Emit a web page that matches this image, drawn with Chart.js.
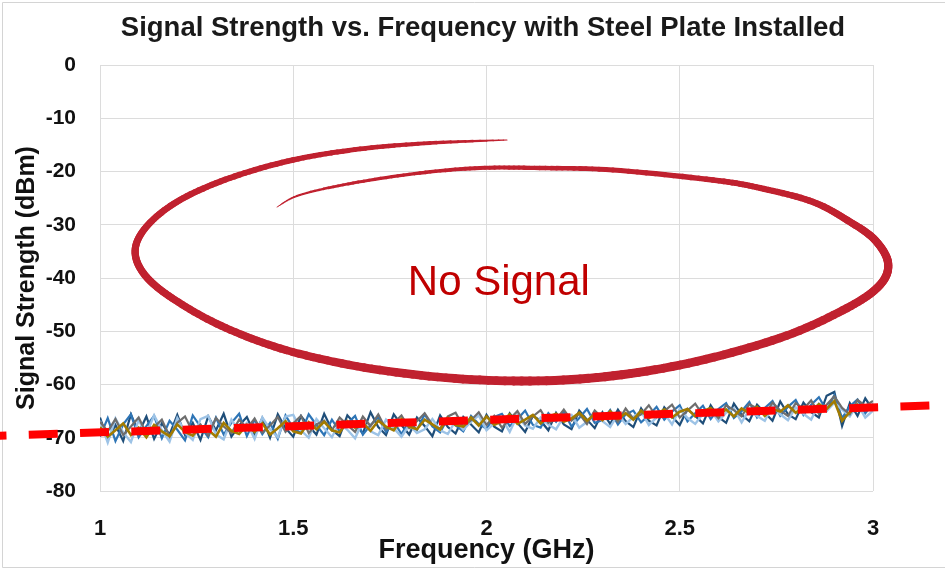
<!DOCTYPE html>
<html>
<head>
<meta charset="utf-8">
<script src="https://cdn.jsdelivr.net/npm/chart.js@4.4.1/dist/chart.umd.min.js"></script>
<style>
html,body{margin:0;padding:0;background:#fff;}
#wrap{width:945px;height:570px;position:relative;}
</style>
</head>
<body>
<div id="wrap"><canvas id="c" width="945" height="570"></canvas></div>
<script>
// ---------- data ----------
const chartTitle = "Signal Strength vs. Frequency with Steel Plate Installed";
const xTitle = "Frequency (GHz)";
const yTitle = "Signal Strength (dBm)";
const freq = [1.00,1.02,1.04,1.06,1.08,1.10,1.12,1.14,1.16,1.18,
1.20,1.22,1.24,1.26,1.28,1.30,1.32,1.34,1.36,1.38,
1.40,1.42,1.44,1.46,1.48,1.50,1.52,1.54,1.56,1.58,
1.60,1.62,1.64,1.66,1.68,1.70,1.72,1.74,1.76,1.78,
1.80,1.82,1.84,1.86,1.88,1.90,1.92,1.94,1.96,1.98,
2.00,2.02,2.04,2.06,2.08,2.10,2.12,2.14,2.16,2.18,
2.20,2.22,2.24,2.26,2.28,2.30,2.32,2.34,2.36,2.38,
2.40,2.42,2.44,2.46,2.48,2.50,2.52,2.54,2.56,2.58,
2.60,2.62,2.64,2.66,2.68,2.70,2.72,2.74,2.76,2.78,
2.80,2.82,2.84,2.86,2.88,2.90,2.92,2.94,2.96,2.98,3.00];

const darkBlue = [-66.2,-70.4,-67.6,-70.6,-65.6,-69.1,-66.0,-70.2,-67.3,-69.4,
-65.7,-69.5,-67.2,-70.4,-66.0,-68.6,-65.5,-69.8,-67.7,-66.1,
-69.4,-66.3,-70.0,-65.6,-68.2,-69.8,-65.9,-67.8,-69.4,-65.5,
-68.5,-69.7,-65.8,-67.4,-69.2,-65.2,-68.0,-69.5,-65.6,-67.6,
-69.4,-66.2,-67.8,-69.7,-65.8,-68.0,-69.2,-66.1,-67.5,-69.0,
-65.7,-67.9,-68.8,-65.4,-67.2,-68.9,-65.9,-66.8,-68.6,-65.3,
-67.5,-68.4,-64.9,-66.6,-68.2,-65.2,-67.4,-64.7,-66.9,-68.0,
-64.5,-66.8,-67.7,-64.3,-66.0,-67.6,-64.6,-65.9,-67.3,-63.9,
-66.1,-67.2,-63.6,-65.7,-66.9,-63.8,-65.3,-66.8,-63.2,-65.6,
-66.5,-63.4,-65.2,-66.2,-62.1,-61.4,-67.8,-63.5,-65.9,-62.6,-64.8];

const midBlue = [-69.8,-66.3,-70.6,-67.5,-65.6,-69.9,-67.8,-65.9,-70.1,-66.8,
-68.5,-70.5,-65.8,-67.9,-69.9,-66.2,-69.4,-67.2,-65.5,-69.7,
-66.6,-69.3,-67.2,-70.2,-65.8,-68.2,-69.1,-65.6,-67.6,-69.5,
-66.6,-68.8,-67.3,-65.9,-69.4,-67.6,-66.2,-68.9,-67.0,-69.3,
-66.9,-68.6,-65.6,-67.9,-69.0,-66.4,-67.7,-68.8,-65.9,-67.4,
-68.3,-66.1,-65.5,-67.8,-66.5,-64.9,-67.6,-68.1,-65.4,-67.0,
-65.1,-67.9,-66.3,-64.6,-67.2,-66.7,-64.8,-67.5,-65.6,-64.9,
-67.1,-65.8,-64.2,-66.6,-65.1,-63.9,-66.9,-65.4,-64.0,-66.5,
-64.6,-63.5,-66.3,-65.0,-63.3,-66.2,-64.4,-63.1,-65.9,-64.2,
-62.9,-65.7,-63.8,-62.4,-64.9,-62.0,-66.3,-64.1,-62.8,-65.4,-63.6];

const lightBlue = [-66.8,-70.9,-66.4,-69.0,-70.8,-66.7,-69.3,-65.8,-68.6,-70.7,
-66.3,-69.0,-70.4,-66.5,-65.9,-69.4,-70.3,-66.6,-68.8,-67.2,
-70.2,-66.2,-68.4,-69.9,-66.0,-65.7,-68.6,-70.0,-66.5,-68.2,
-69.9,-67.1,-68.5,-70.1,-66.9,-68.8,-69.5,-66.6,-68.2,-69.8,
-67.6,-69.1,-68.4,-66.5,-68.6,-69.3,-66.8,-68.5,-67.0,-65.8,
-68.6,-67.3,-66.4,-68.9,-65.8,-67.7,-68.3,-66.2,-67.5,-68.4,
-66.0,-65.7,-68.1,-67.0,-65.2,-66.9,-68.0,-65.6,-67.4,-66.1,
-65.0,-67.6,-66.2,-65.4,-67.5,-64.6,-66.3,-67.4,-65.5,-64.8,
-66.9,-65.3,-64.5,-67.1,-64.7,-65.9,-66.8,-64.1,-65.6,-66.7,
-64.3,-65.5,-66.6,-63.6,-65.0,-63.4,-64.7,-66.0,-63.7,-66.2,-64.9];

const grayRun = [-67.0,-68.8,-66.5,-69.5,-67.9,-66.2,-69.2,-68.0,-66.6,-69.8,
-67.2,-66.0,-68.9,-67.5,-69.6,-66.3,-67.9,-69.1,-66.6,-68.3,
-66.4,-69.0,-67.7,-66.1,-68.9,-67.3,-65.9,-69.1,-67.5,-66.8,
-68.6,-66.2,-67.6,-68.9,-66.0,-67.8,-65.6,-68.4,-67.2,-65.8,
-68.2,-66.9,-65.4,-67.6,-68.3,-66.0,-65.3,-67.9,-66.7,-65.2,
-67.6,-65.9,-68.1,-66.5,-65.0,-67.4,-66.0,-64.8,-67.2,-66.6,
-64.7,-66.8,-65.5,-67.4,-64.9,-66.3,-65.3,-67.0,-64.5,-66.4,
-65.6,-63.9,-66.1,-65.0,-63.8,-66.2,-64.9,-63.6,-65.8,-64.6,
-66.3,-63.9,-64.8,-66.0,-63.7,-64.5,-65.7,-63.4,-64.9,-65.9,
-63.5,-64.6,-63.0,-65.5,-63.8,-62.2,-64.4,-65.6,-62.9,-64.0,-63.1];

const goldRun = [-68.0,-69.8,-68.6,-67.3,-69.5,-68.1,-69.9,-67.6,-68.8,-69.7,
-67.5,-68.9,-69.6,-67.9,-68.5,-69.8,-67.2,-68.7,-69.3,-67.6,
-68.9,-67.3,-69.4,-68.2,-66.9,-68.8,-69.2,-67.1,-68.4,-67.0,
-68.6,-69.0,-66.9,-68.1,-67.2,-68.7,-66.8,-67.9,-68.6,-66.5,
-67.9,-68.4,-66.6,-67.5,-68.5,-66.3,-67.6,-67.9,-66.2,-67.7,
-66.0,-67.6,-66.9,-65.6,-67.4,-66.6,-65.7,-67.3,-66.1,-65.5,
-67.0,-66.4,-65.3,-66.8,-65.6,-66.7,-65.0,-66.5,-65.4,-66.6,
-64.9,-66.3,-65.6,-64.7,-66.2,-65.1,-64.6,-66.0,-65.0,-64.4,
-65.8,-64.7,-66.0,-64.5,-65.4,-64.2,-65.9,-64.6,-65.1,-63.9,
-65.3,-64.2,-65.0,-63.7,-64.6,-63.1,-66.8,-65.2,-63.8,-64.7,-63.9];

// linear trend line (hand-drawn red dashed line, extends past the plot)
const trendX = [0.683, 3.147];
const trendY = [-69.74, -63.95];

const xTicks = {min: 1, max: 3, step: 0.5};
const yTicks = {min: -80, max: 0, step: 10};

// ---------- annotation (hand-drawn spiral + label), in data units ----------
const noteText = "No Signal";
const notePos = [2.032, -43.2];
const spiralPath = [
[2.053,-14.08],[1.854,-14.65],[1.673,-15.77],[1.499,-17.84],[1.336,-21.22],
[1.207,-25.35],[1.124,-30.05],[1.091,-34.74],[1.116,-39.44],[1.194,-44.13],
[1.326,-49.39],[1.499,-53.90],[1.724,-57.28],[1.983,-59.15],[2.242,-58.97],
[2.501,-56.34],[2.759,-51.27],[2.933,-45.63],[3.018,-41.31],[3.039,-37.18],
[3.005,-32.86],[2.941,-29.48],[2.845,-25.73],[2.708,-23.10],[2.586,-21.60],
[2.327,-19.72],[2.138,-19.34],[1.983,-19.34],[1.828,-20.28],[1.655,-22.16],
[1.517,-24.41],[1.458,-26.67]];
const spiralWidth = [1,3.8,4.8,5.5,6,6.4,6.8,7.2,7.4,7.4,7.6,8,8.4,8.8,9,8.8,
8.5,8.3,8.2,8.2,7.8,7.2,6.6,6,5.6,5,4.4,4,3.5,3,2,0.7];

// ---------- drawing ----------
const FONT = "'Liberation Sans', Arial, sans-serif";

function mkSeries(ys){ return ys.map((v,i)=>({x: freq[i], y: v})); }

const spiralPlugin = {
  id: 'spiral',
  afterDatasetsDraw(chart){
    const {ctx, scales:{x, y}} = chart;
    const P = spiralPath.map(p => [x.getPixelForValue(p[0]), y.getPixelForValue(p[1])]);
    const n = P.length;
    const samples = [];
    for (let i = 0; i < n - 1; i++){
      const p0 = P[Math.max(i-1,0)], p1 = P[i], p2 = P[i+1], p3 = P[Math.min(i+2,n-1)];
      for (let k = 0; k < 12; k++){
        const t = k/12, t2 = t*t, t3 = t2*t;
        const px = 0.5*((2*p1[0]) + (-p0[0]+p2[0])*t + (2*p0[0]-5*p1[0]+4*p2[0]-p3[0])*t2 + (-p0[0]+3*p1[0]-3*p2[0]+p3[0])*t3);
        const py = 0.5*((2*p1[1]) + (-p0[1]+p2[1])*t + (2*p0[1]-5*p1[1]+4*p2[1]-p3[1])*t2 + (-p0[1]+3*p1[1]-3*p2[1]+p3[1])*t3);
        const w = spiralWidth[i] + (spiralWidth[i+1]-spiralWidth[i])*t;
        samples.push([px, py, w]);
      }
    }
    samples.push([P[n-1][0], P[n-1][1], spiralWidth[n-1]]);
    ctx.save();
    ctx.strokeStyle = '#c0212f';
    ctx.lineCap = 'round';
    ctx.lineJoin = 'round';
    for (let i = 0; i < samples.length - 1; i++){
      const a = samples[i], b = samples[i+1];
      ctx.lineWidth = (a[2]+b[2])/2;
      ctx.beginPath();
      ctx.moveTo(a[0], a[1]);
      ctx.lineTo(b[0], b[1]);
      ctx.stroke();
    }
    ctx.fillStyle = '#c00000';
    ctx.font = "42px " + FONT;
    ctx.textAlign = 'center';
    ctx.textBaseline = 'alphabetic';
    ctx.fillText(noteText, x.getPixelForValue(notePos[0]), y.getPixelForValue(notePos[1]));
    ctx.restore();
  }
};

const framePlugin = {
  id: 'frame',
  beforeDraw(chart){
    const ctx = chart.ctx;
    ctx.save();
    ctx.fillStyle = '#ffffff';
    ctx.fillRect(0, 0, chart.width, chart.height);
    ctx.strokeStyle = '#d4d4d4';
    ctx.lineWidth = 1;
    ctx.beginPath();
    ctx.moveTo(chart.width + 5, 2.5);
    ctx.lineTo(2.5, 2.5);
    ctx.lineTo(2.5, 567.5);
    ctx.lineTo(chart.width + 5, 567.5);
    ctx.stroke();
    ctx.restore();
  }
};

const gridColor = '#dcdcdc';
const noiseStyle = (color, w) => ({
  borderColor: color, backgroundColor: color, borderWidth: w,
  pointRadius: 0, fill: false, tension: 0
});
const plainNum = v => String(v);

new Chart(document.getElementById('c'), {
  type: 'line',
  data: {
    datasets: [
      {label: 'Trend', data: trendX.map((v,i)=>({x: v, y: trendY[i]})),
        borderColor: '#ff0000', borderWidth: 8, borderDash: [29, 22.3],
        borderCapStyle: 'butt', pointRadius: 0, clip: false, fill: false},
      Object.assign({label: 'Run 5', data: mkSeries(goldRun)}, noiseStyle('#a27b00', 2.6)),
      Object.assign({label: 'Run 4', data: mkSeries(grayRun)}, noiseStyle('#6e6e6e', 2.2)),
      Object.assign({label: 'Run 3', data: mkSeries(lightBlue)}, noiseStyle('#9dc3e6', 2.4)),
      Object.assign({label: 'Run 2', data: mkSeries(midBlue)}, noiseStyle('#2e75b6', 2.2)),
      Object.assign({label: 'Run 1', data: mkSeries(darkBlue)}, noiseStyle('#1f4e79', 2.2))
    ]
  },
  options: {
    responsive: false,
    animation: false,
    events: [],
    layout: {padding: {left: 21, right: 0, top: 0, bottom: 0}},
    plugins: {
      legend: {display: false},
      tooltip: {enabled: false},
      title: {
        display: true, text: chartTitle, color: '#1a1a1a',
        font: {family: FONT, size: 27.5, weight: 'bold', lineHeight: 1.2},
        padding: {top: 11.5, bottom: 20.5}
      }
    },
    scales: {
      x: {
        type: 'linear', min: xTicks.min, max: xTicks.max,
        afterFit(s){ s.height = 79; },
        ticks: {stepSize: xTicks.step, color: '#111', padding: 25, callback: plainNum,
          font: {family: FONT, size: 22, weight: 'bold'}, maxRotation: 0},
        grid: {color: gridColor, lineWidth: 1, drawTicks: false},
        border: {display: false},
        title: {display: true, text: xTitle, color: '#111',
          font: {family: FONT, size: 27, weight: 'bold', lineHeight: 1.2},
          padding: {top: 0, bottom: 3}}
      },
      y: {
        type: 'linear', min: yTicks.min, max: yTicks.max,
        afterFit(s){ s.width = 79; },
        ticks: {stepSize: yTicks.step, color: '#111', padding: 24, callback: plainNum,
          font: {family: FONT, size: 21, weight: 'bold'}},
        grid: {color: gridColor, lineWidth: 1, drawTicks: false},
        border: {display: false},
        title: {display: true, text: yTitle, color: '#111',
          font: {family: FONT, size: 25, weight: 'bold', lineHeight: 0.48},
          padding: {top: 0, bottom: 0}}
      },
      yRight: {
        type: 'linear', position: 'right', min: yTicks.min, max: yTicks.max,
        afterFit(s){ s.width = 72; },
        ticks: {display: false},
        grid: {display: false, drawOnChartArea: false, drawTicks: false},
        border: {display: false}
      }
    }
  },
  plugins: [framePlugin, spiralPlugin]
});
</script>
</body>
</html>
